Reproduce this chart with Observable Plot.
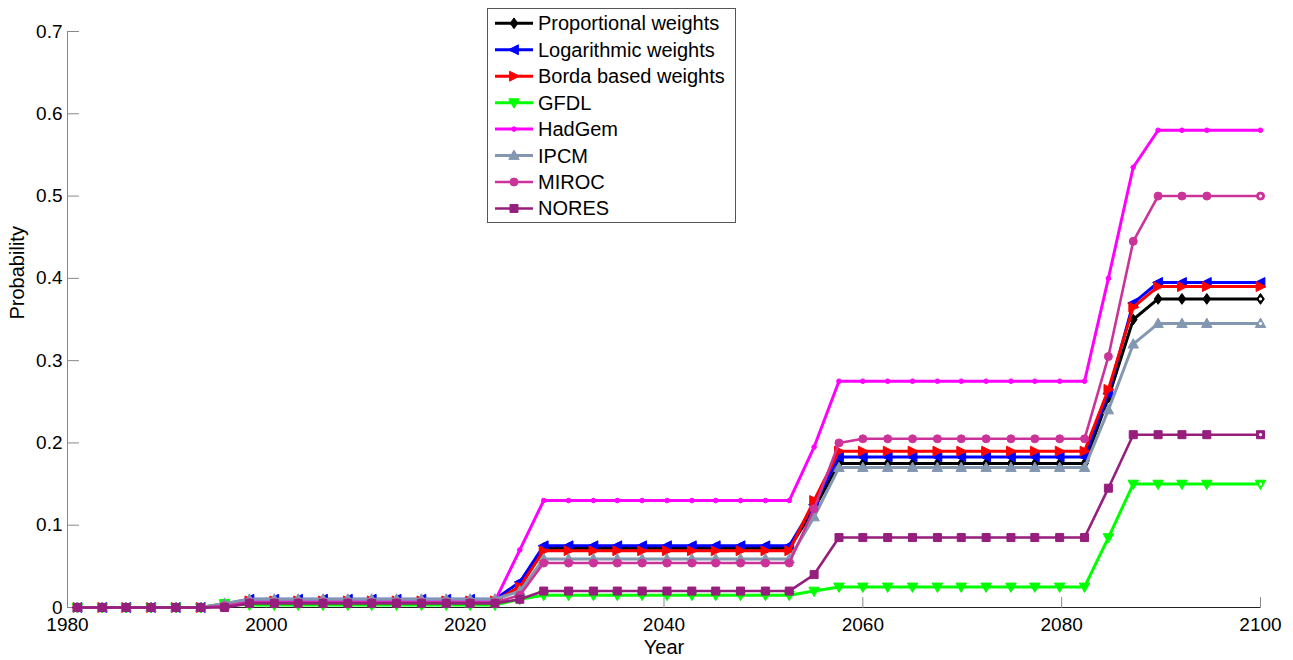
<!DOCTYPE html>
<html><head><meta charset="utf-8">
<script src="https://cdn.jsdelivr.net/npm/d3@7"></script>
<script src="https://cdn.jsdelivr.net/npm/@observablehq/plot@0.6"></script>
<style>
body{margin:0;background:#fff;}
#wrap{position:relative;width:1293px;height:660px;font-family:"Liberation Sans",Arial,Helvetica,sans-serif;}
#legend{position:absolute;left:487px;top:8px;}
</style></head><body><div id="wrap"></div>
<script>
const years = [1981.0,1983.5,1985.9,1988.4,1990.9,1993.4,1995.8,1998.3,2000.8,2003.2,2005.7,2008.2,2010.6,2013.1,2015.6,2018.1,2020.5,2023.0,2025.5,2027.9,2030.4,2032.9,2035.3,2037.8,2040.3,2042.8,2045.2,2047.7,2050.2,2052.6,2055.1,2057.6,2060.0,2062.5,2065.0,2067.5,2069.9,2072.4,2074.9,2077.3,2079.8,2082.3,2084.7,2087.2,2089.7,2092.1,2094.6,2100.0];
const seriesNames = ["Proportional weights","Logarithmic weights","Borda based weights","GFDL","HadGem","IPCM","MIROC","NORES"];
const proportional = [0,0,0,0,0,0,0.003,0.008,0.008,0.008,0.008,0.008,0.008,0.008,0.008,0.008,0.008,0.008,0.025,0.072,0.072,0.072,0.072,0.072,0.072,0.072,0.072,0.072,0.072,0.072,0.12,0.175,0.175,0.175,0.175,0.175,0.175,0.175,0.175,0.175,0.175,0.175,0.255,0.35,0.375,0.375,0.375,0.375];
const logarithmic = [0,0,0,0,0,0,0.004,0.01,0.01,0.01,0.01,0.01,0.01,0.01,0.01,0.01,0.01,0.01,0.031,0.075,0.075,0.075,0.075,0.075,0.075,0.075,0.075,0.075,0.075,0.075,0.125,0.183,0.183,0.183,0.183,0.183,0.183,0.183,0.183,0.183,0.183,0.183,0.26,0.37,0.395,0.395,0.395,0.395];
const borda = [0,0,0,0,0,0,0.003,0.008,0.008,0.008,0.008,0.008,0.008,0.008,0.008,0.008,0.008,0.008,0.025,0.069,0.069,0.069,0.069,0.069,0.069,0.069,0.069,0.069,0.069,0.069,0.13,0.19,0.19,0.19,0.19,0.19,0.19,0.19,0.19,0.19,0.19,0.19,0.265,0.365,0.39,0.39,0.39,0.39];
const gfdl = [0,0,0,0,0,0,0.005,0.003,0.003,0.003,0.003,0.003,0.003,0.003,0.003,0.003,0.003,0.003,0.01,0.015,0.015,0.015,0.015,0.015,0.015,0.015,0.015,0.015,0.015,0.015,0.02,0.025,0.025,0.025,0.025,0.025,0.025,0.025,0.025,0.025,0.025,0.025,0.085,0.15,0.15,0.15,0.15,0.15];
const hadgem = [0,0,0,0,0,0,0.002,0.008,0.008,0.008,0.008,0.008,0.008,0.008,0.008,0.008,0.008,0.008,0.07,0.13,0.13,0.13,0.13,0.13,0.13,0.13,0.13,0.13,0.13,0.13,0.195,0.275,0.275,0.275,0.275,0.275,0.275,0.275,0.275,0.275,0.275,0.275,0.40,0.535,0.58,0.58,0.58,0.58];
const ipcm = [0,0,0,0,0,0,0.005,0.01,0.01,0.01,0.01,0.01,0.01,0.01,0.01,0.01,0.01,0.01,0.02,0.059,0.059,0.059,0.059,0.059,0.059,0.059,0.059,0.059,0.059,0.059,0.11,0.17,0.17,0.17,0.17,0.17,0.17,0.17,0.17,0.17,0.17,0.17,0.24,0.32,0.345,0.345,0.345,0.345];
const miroc = [0,0,0,0,0,0,0.002,0.006,0.006,0.006,0.006,0.006,0.006,0.006,0.006,0.006,0.006,0.006,0.015,0.054,0.054,0.054,0.054,0.054,0.054,0.054,0.054,0.054,0.054,0.054,0.12,0.2,0.205,0.205,0.205,0.205,0.205,0.205,0.205,0.205,0.205,0.205,0.305,0.445,0.50,0.50,0.50,0.50];
const nores = [0,0,0,0,0,0,0,0.005,0.005,0.005,0.005,0.005,0.005,0.005,0.005,0.005,0.005,0.005,0.01,0.02,0.02,0.02,0.02,0.02,0.02,0.02,0.02,0.02,0.02,0.02,0.04,0.085,0.085,0.085,0.085,0.085,0.085,0.085,0.085,0.085,0.085,0.085,0.145,0.21,0.21,0.21,0.21,0.21];
const xTicks = [1980,2000,2020,2040,2060,2080,2100];
const yTicks = [0,0.1,0.2,0.3,0.4,0.5,0.6,0.7];
const yTickLabels = ["0","0.1","0.2","0.3","0.4","0.5","0.6","0.7"];

const values = [proportional, logarithmic, borda, gfdl, hadgem, ipcm, miroc, nores];
const colors = ["#000000","#0000ff","#ff0000","#00ff00","#ff00ff","#8397b0","#cc3399","#961e7d"];

function poly(fn){ return {draw(ctx,size){const r=Math.sqrt(size/Math.PI); const p=fn(r); ctx.moveTo(p[0][0],p[0][1]); for(let i=1;i<p.length;i++) ctx.lineTo(p[i][0],p[i][1]); ctx.closePath();}}; }
const symDiamond = poly(r=>[[0,-1.2*r],[0.85*r,0],[0,1.2*r],[-0.85*r,0]]);
const symLeft = poly(r=>[[-r,0],[0.8*r,-0.9*r],[0.8*r,0.9*r]]);
const symRight = poly(r=>[[r,0],[-0.8*r,-0.9*r],[-0.8*r,0.9*r]]);
const symDown = poly(r=>[[0,r],[-0.95*r,-0.7*r],[0.95*r,-0.7*r]]);
const symUp = poly(r=>[[0,-r],[-0.95*r,0.7*r],[0.95*r,0.7*r]]);
const symSquare = poly(r=>[[-r,-r],[r,-r],[r,r],[-r,r]]);
const symCircle = {draw(ctx,size){const r=Math.sqrt(size/Math.PI); ctx.moveTo(r,0); ctx.arc(0,0,r,0,2*Math.PI);}};
const symbols = [symDiamond, symLeft, symRight, symDown, symCircle, symUp, symCircle, symSquare];
const radii = [4.5, 5.5, 5.5, 5.5, 2.3, 5.5, 4, 4];
const widths = [3, 3, 3, 3, 3, 3, 2.6, 2.6];
const hollowEnd = [true,false,false,true,false,true,true,true];

const tickShape = {draw(ctx, l){ ctx.moveTo(0,0); ctx.lineTo(0,-l); }};

const rows = [];
seriesNames.forEach((name,i)=> values[i].forEach((v,k)=> rows.push({series:name, idx:i, year:years[k], value:v, last:k===years.length-1})));

const marks = [
  Plot.ruleY([0], {stroke:"#222", strokeWidth:1}),
  Plot.ruleX([1980], {stroke:"#888", strokeWidth:1}),
  Plot.vector(xTicks, {x:d=>d, y:0, length:10, rotate:0, anchor:"start", shape:tickShape, stroke:"#888", strokeWidth:1}),
  Plot.vector(yTicks, {x:1980, y:d=>d, length:11, rotate:90, anchor:"start", shape:tickShape, stroke:"#888", strokeWidth:1}),
  Plot.axisX({ticks:xTicks, tickSize:0, tickPadding:10, tickFormat:d=>String(d), fontSize:19, label:null}),
  Plot.axisY({ticks:yTicks, tickSize:0, tickPadding:5, tickFormat:(d,i)=>yTickLabels[i], fontSize:19, label:null}),
  Plot.text(["Year"], {text:d=>d, frameAnchor:"bottom", dy:46, fontSize:20}),
  Plot.text(["Probability"], {text:d=>d, frameAnchor:"left", dx:-50, rotate:-90, fontSize:20})
];
seriesNames.forEach((name,i)=>{
  const d = rows.filter(r=>r.idx===i);
  marks.push(Plot.line(d, {x:"year", y:"value", stroke:colors[i], strokeWidth:widths[i], strokeLinejoin:"miter"}));
  marks.push(Plot.dot(d, {x:"year", y:"value", symbol:symbols[i], r:radii[i], fill:colors[i], stroke:colors[i], strokeWidth:1}));
  if (hollowEnd[i]) marks.push(Plot.dot(d.filter(r=>r.last), {x:"year", y:"value", r:1.6, fill:"white"}));
});

const chart = Plot.plot({
  width:1293, height:660,
  marginLeft:67, marginRight:33, marginTop:31, marginBottom:53,
  x:{domain:[1980,2100]},
  y:{domain:[0,0.7]},
  style:{fontFamily:'"Liberation Sans",Arial,Helvetica,sans-serif', color:"black", background:"white"},
  marks
});
const wrap = document.getElementById("wrap");
wrap.appendChild(chart);

// legend
const lg = d3.create("svg").attr("id","legend").attr("width",249).attr("height",215);
lg.append("rect").attr("x",0.5).attr("y",0.5).attr("width",248).attr("height",214).attr("fill","white").attr("stroke","#555");
seriesNames.forEach((name,i)=>{
  const cy = 15.3 + i*26.45;
  const g = lg.append("g");
  g.append("line").attr("x1",8).attr("x2",46).attr("y1",cy).attr("y2",cy).attr("stroke",colors[i]).attr("stroke-width",widths[i]);
  g.append("path").attr("transform",`translate(27,${cy})`).attr("d", d3.symbol(symbols[i], Math.PI*radii[i]*radii[i])()).attr("fill",colors[i]).attr("stroke",colors[i]);
  g.append("text").attr("x",51).attr("y",cy).attr("dy","0.35em").attr("font-size",20).attr("font-family",'"Liberation Sans",Arial,sans-serif').text(name);
});
wrap.appendChild(lg.node());
</script></body></html>
